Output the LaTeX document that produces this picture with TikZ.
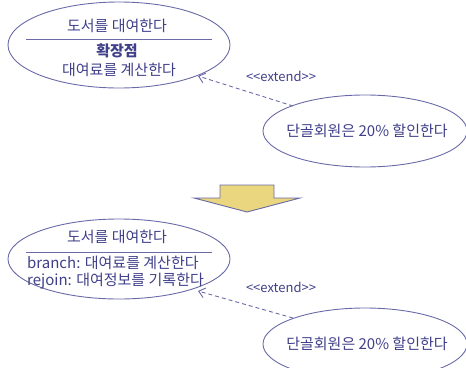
\documentclass[tikz,border=0pt]{standalone}
\usepackage{fontspec}
\setmainfont{Noto Sans CJK KR}
\usetikzlibrary{arrows.meta,shapes.geometric}
\definecolor{uline}{HTML}{6A6AA8}
\definecolor{utext}{HTML}{40408A}
\definecolor{ufill}{HTML}{EAD67E}
\tikzset{
  usecase/.style={draw=uline, line width=0.9pt, fill=white, ellipse},
  utxt/.style={text=utext, font=\fontsize{15}{17}\selectfont, inner sep=0pt},
  lbl/.style={text=utext, font=\fontsize{13}{15}\selectfont, inner sep=0pt},
  extarrow/.style={draw=uline, line width=0.9pt, dash pattern=on 4pt off 3pt, -{Straight Barb[length=6pt,width=10pt]}},
  divider/.style={draw=uline, line width=0.8pt},
}
\begin{document}
\begin{tikzpicture}[x=1pt,y=-1pt]
\useasboundingbox (0,0) rectangle (466,367);
\clip (0,0) rectangle (466,367);
% top
\node[usecase, minimum width=222pt, minimum height=86pt] (uc1) at (119,45) {};
\draw[divider] (26,39) -- (212,39);
\node[utxt] (uc1t) at (117,26) {도서를 대여한다};
\node[utxt, font=\fontsize{15}{17}\selectfont\bfseries] (uc1e) at (117,51) {확장점};
\node[utxt] (uc1b) at (119,70) {대여료를 계산한다};
\node[usecase, minimum width=204pt, minimum height=72pt] (uc2) at (365,131) {};
\node[utxt] (uc2t) at (367,131) {단골회원은 20\% 할인한다};
\coordinate (a1s) at (293,106);
\coordinate (a1e) at (198,76);
\draw[extarrow] (a1s) -- (a1e);
\node[lbl] (l1) at (281,76) {<{}<extend>{}>};
% block arrow
\draw[draw=uline, line width=0.9pt, fill=ufill] (220,185) -- (274,185) -- (274,198) -- (300,198) -- (247,212) -- (194,198) -- (220,198) -- cycle;
% bottom
\node[usecase, minimum width=222pt, minimum height=80pt] (uc3) at (119,259) {};
\draw[divider] (26,252) -- (212,252);
\node[utxt] (uc3t) at (117,237) {도서를 대여한다};
\node[utxt, anchor=west] (uc3a) at (27,263) {branch: 대여료를 계산한다};
\node[utxt, anchor=west] (uc3b) at (27,281) {rejoin: 대여정보를 기록한다};
\node[usecase, minimum width=204pt, minimum height=72pt] (uc4) at (365,344) {};
\node[utxt] (uc4t) at (367,344) {단골회원은 20\% 할인한다};
\coordinate (a2s) at (293,318);
\coordinate (a2e) at (198,291);
\draw[extarrow] (a2s) -- (a2e);
\node[lbl] (l2) at (281,287) {<{}<extend>{}>};
\end{tikzpicture}
\end{document}
